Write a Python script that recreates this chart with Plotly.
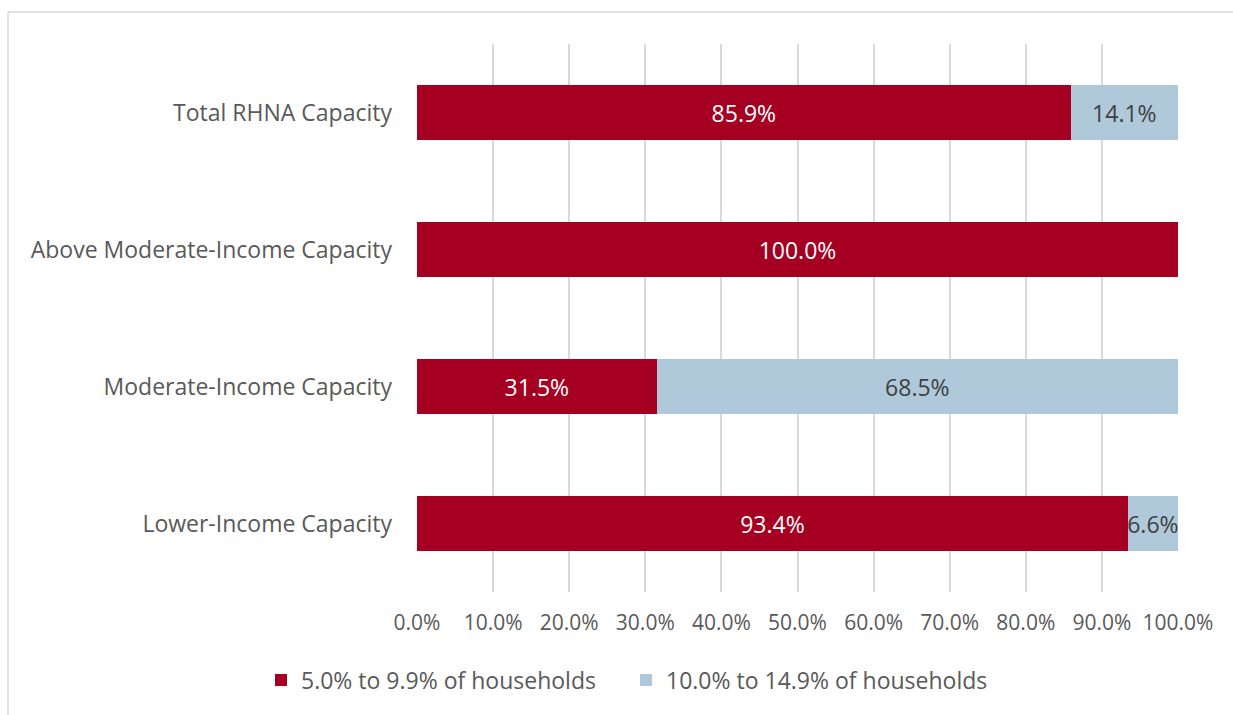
import plotly.graph_objects as go

categories = [
    "Lower-Income Capacity",
    "Moderate-Income Capacity",
    "Above Moderate-Income Capacity",
    "Total RHNA Capacity",
]
share_5_to_9 = [93.4, 31.5, 100.0, 85.9]
share_10_to_14 = [6.6, 68.5, 0.0, 14.1]
series_names = ["5.0% to 9.9% of households", "10.0% to 14.9% of households"]
tick_values = [0, 10, 20, 30, 40, 50, 60, 70, 80, 90, 100]
tick_labels = [f"{v:.1f}%" for v in tick_values]

RED = "#A50021"
BLUE = "#AFC9DA"
GREY = "#595959"
FONT = "'Open Sans', Lato, sans-serif"

W, H = 1233, 715
ML, MR, MT, MB = 417, 55, 44, 123

fig = go.Figure()
fig.add_trace(go.Bar(
    y=categories, x=share_5_to_9, orientation="h", name=series_names[0],
    marker=dict(color=RED, line=dict(width=0)),
    text=[f"{v:.1f}%" if v > 0 else "" for v in share_5_to_9],
    textposition="inside", insidetextanchor="middle", textangle=0,
    constraintext="none",
    textfont=dict(color="white", size=23, family=FONT),
    hoverinfo="skip",
))
fig.add_trace(go.Bar(
    y=categories, x=share_10_to_14, orientation="h", name=series_names[1],
    marker=dict(color=BLUE, line=dict(width=0)),
    text=[f"{v:.1f}%" if v > 0 else "" for v in share_10_to_14],
    textposition="inside", insidetextanchor="middle", textangle=0,
    constraintext="none",
    textfont=dict(color="#404040", size=23, family=FONT),
    hoverinfo="skip",
))

# chart frame: top and left edges
pw = W - ML - MR
ph = H - MT - MB
x_left = (8 - ML) / pw
y_top = (H - MB - 12) / ph
fig.add_shape(type="line", xref="paper", yref="paper", x0=x_left, x1=(W - ML) / pw + 0.01,
              y0=y_top, y1=y_top, line=dict(color="#D9D9D9", width=1.5))
fig.add_shape(type="line", xref="paper", yref="paper", x0=x_left, x1=x_left,
              y0=y_top, y1=-(MB + 5) / ph, line=dict(color="#D9D9D9", width=1.5))

fig.update_layout(
    width=W, height=H,
    margin=dict(l=ML, r=MR, t=MT, b=MB, pad=0, autoexpand=False),
    barmode="stack", bargap=0.6,
    plot_bgcolor="white", paper_bgcolor="white",
    font=dict(family=FONT, size=23, color=GREY),
    showlegend=True,
    legend=dict(orientation="h", xref="container", yref="container",
                x=261 / W, xanchor="left", y=1 - 680 / H, yanchor="middle",
                font=dict(size=23, color=GREY, family=FONT),
                itemwidth=30, traceorder="normal",
                entrywidthmode="pixels", entrywidth=320),
    xaxis=dict(range=[0, 100], tickvals=tick_values, ticktext=tick_labels,
               showgrid=True, gridcolor="#D9D9D9", gridwidth=1.5,
               zeroline=False, showline=False, ticks="",
               tickfont=dict(size=21, color=GREY, family=FONT), ticklabelstandoff=16),
    yaxis=dict(range=[-0.5, 3.5], showgrid=False, showline=False, ticks="",
               tickfont=dict(size=23, color=GREY, family=FONT), ticklabelstandoff=24),
)

fig.write_html("out.html")
